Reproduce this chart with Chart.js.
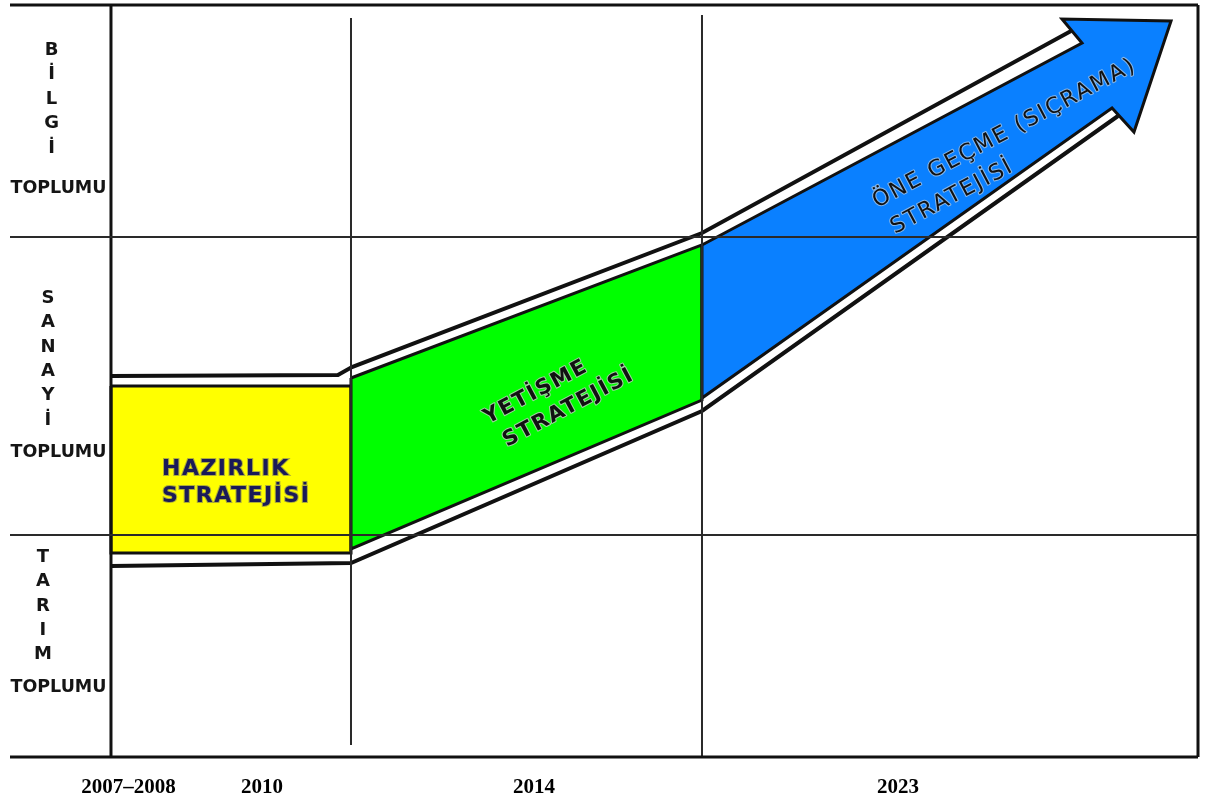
<!DOCTYPE html>
<html><head><meta charset="utf-8">
<script src="https://cdn.jsdelivr.net/npm/chart.js@4.4.0/dist/chart.umd.min.js"></script>
<style>html,body{margin:0;padding:0;background:#fff;}canvas{display:block;}</style>
</head><body>
<canvas id="c" width="1211" height="801"></canvas>
<script>
// x: position along the timeline (% of timeline width), y: development level (% of chart height)
const periodLabels = ['2007–2008', '2010', '2014', '2023'];
const periodTickX = [1.61, 13.89, 38.91, 72.40];

const societies = ['BİLGİ', 'SANAYİ', 'TARIM'];
const societyWord = 'TOPLUMU';
const societyLetterX = [-5.47, -5.80, -6.26];
const societyFirstLetterY = [94.0, 61.04, 26.60];
const societyWordY = [75.66, 40.56, 9.31];

// grid boundaries
const rowBoundsY = [100, 69.15, 29.52, 0];
const colBoundsX = [0, 22.08, 54.37, 100];
const colBottomY = [0, 1.60, 0, 0];
const colTopY = [100, 98.27, 98.67, 100];

// strategy shapes
const hazirlikX = [0, 22.08, 22.08, 0];
const hazirlikY = [49.34, 49.34, 27.13, 27.13];
const yetismeX = [22.08, 54.37, 54.37, 22.08];
const yetismeY = [50.40, 68.09, 47.47, 27.66];
const sicramaX = [54.37, 89.33, 87.49, 97.52, 94.11, 92.09, 54.37];
const sicramaY = [68.09, 94.95, 98.14, 97.87, 83.11, 86.30, 47.74];

// outer (double) edge lines
const outerTopX = [0, 20.88, 22.17, 54.37, 88.32];
const outerTopY = [50.66, 50.80, 51.86, 69.68, 96.54];
const outerBottomX = [0, 22.08, 54.37, 92.64];
const outerBottomY = [25.40, 25.80, 46.01, 85.24];

// strategy captions
const hazirlikLines = ['HAZIRLIK', 'STRATEJİSİ'];
const hazirlikLineX = [4.69, 4.69];
const hazirlikLineY = [38.23, 34.64];
const yetismeLines = ['YETİŞME', 'STRATEJİSİ'];
const yetismeLineX = [34.68, 36.43];
const yetismeLineY = [44.28, 41.22];
const sicramaLines = ['ÖNE GEÇME (SIÇRAMA)', 'STRATEJİSİ'];
const sicramaLineX = [70.47, 72.13];
const sicramaLineY = [73.0, 69.55];

function pts(xs, ys, close) {
  const p = xs.map((x, i) => ({x: x, y: ys[i]}));
  if (close) p.push({x: xs[0], y: ys[0]});
  return p;
}

const datasets = [];
function shape(xs, ys, color, order) {
  datasets.push({data: pts(xs, ys, true), showLine: true, fill: 'shape', backgroundColor: color,
    borderColor: '#111', borderWidth: 3, pointRadius: 0, tension: 0, order: order, clip: false,
    borderJoinStyle: 'miter'});
}
function line(xs, ys, width, color, order) {
  datasets.push({data: pts(xs, ys, false), showLine: true, fill: false, borderColor: color,
    borderWidth: width, pointRadius: 0, tension: 0, order: order, clip: false});
}
shape(hazirlikX, hazirlikY, '#ffff00', 10);
shape(yetismeX, yetismeY, '#00ff00', 9);
shape(sicramaX, sicramaY, '#0a80ff', 8);
line(outerTopX, outerTopY, 4, '#111', 4);
line(outerBottomX, outerBottomY, 4, '#111', 4);
const xMin = -9.29;
rowBoundsY.forEach((yv, i) => {
  const edge = i === 0 || i === rowBoundsY.length - 1;
  line([xMin, 100], [yv, yv], edge ? 3 : 2, edge ? '#111' : '#2a2a2a', 1);
});
colBoundsX.forEach((xv, i) => {
  const edge = i === 0 || i === colBoundsX.length - 1;
  line([xv, xv], [colBottomY[i], colTopY[i]], edge ? 3 : 2, edge ? '#111' : '#2a2a2a', 1);
});

const textPlugin = {
  id: 'texts',
  afterDatasetsDraw(chart) {
    const {ctx} = chart;
    const X = v => chart.scales.x.getPixelForValue(v);
    const Y = v => chart.scales.y.getPixelForValue(v);
    const letterStep = 3.25;
    ctx.save();
    ctx.fillStyle = '#151515';
    ctx.textAlign = 'center';
    ctx.textBaseline = 'middle';
    societies.forEach((name, i) => {
      ctx.font = 'bold 18px "DejaVu Sans"';
      Array.from(name).forEach((ch, j) => {
        ctx.fillText(ch, X(societyLetterX[i]), Y(societyFirstLetterY[i] - j * letterStep));
      });
      ctx.font = 'bold 17.5px "DejaVu Sans"';
      ctx.fillText(societyWord, X(-4.83), Y(societyWordY[i]));
    });
    // period labels
    ctx.font = 'bold 21px "Liberation Serif"';
    ctx.fillStyle = '#000';
    periodLabels.forEach((t, i) => ctx.fillText(t, X(periodTickX[i]), Y(-4.0)));

    // HAZIRLIK
    ctx.textAlign = 'left';
    ctx.font = 'bold 22px "DejaVu Sans"';
    ctx.letterSpacing = '1.5px';
    hazirlikLines.forEach((t, i) => {
      ctx.lineWidth = 2; ctx.strokeStyle = 'rgba(120,120,90,0.6)';
      ctx.strokeText(t, X(hazirlikLineX[i]), Y(hazirlikLineY[i]));
      ctx.fillStyle = '#1a1a58';
      ctx.fillText(t, X(hazirlikLineX[i]), Y(hazirlikLineY[i]));
    });

    function rot(lines, xs, ys, font, spacing, angle, halo) {
      ctx.font = font;
      ctx.letterSpacing = spacing;
      ctx.textBaseline = 'alphabetic';
      lines.forEach((t, i) => {
        ctx.save();
        ctx.translate(X(xs[i]), Y(ys[i]));
        ctx.rotate(angle * Math.PI / 180);
        ctx.lineWidth = 2; ctx.strokeStyle = halo; ctx.lineJoin = 'round';
        ctx.strokeText(t, 0, 0);
        ctx.fillStyle = '#111';
        ctx.fillText(t, 0, 0);
        ctx.restore();
      });
    }
    rot(yetismeLines, yetismeLineX, yetismeLineY, 'bold 21px "DejaVu Sans"', '1.8px', -28, 'rgba(200,200,200,0.8)');
    rot(sicramaLines, sicramaLineX, sicramaLineY, '22px "DejaVu Sans"', '2px', -28, 'rgba(220,220,220,0.6)');
    ctx.restore();
  }
};

new Chart(document.getElementById('c'), {
  type: 'scatter',
  data: {datasets: datasets},
  options: {
    responsive: false,
    animation: false,
    events: [],
    layout: {padding: {left: 10, right: 13, top: 5, bottom: 44}},
    scales: {
      x: {type: 'linear', min: xMin, max: 100, display: false},
      y: {type: 'linear', min: 0, max: 100, display: false}
    },
    plugins: {legend: {display: false}, tooltip: {enabled: false}}
  },
  plugins: [textPlugin]
});
</script>
</body></html>
